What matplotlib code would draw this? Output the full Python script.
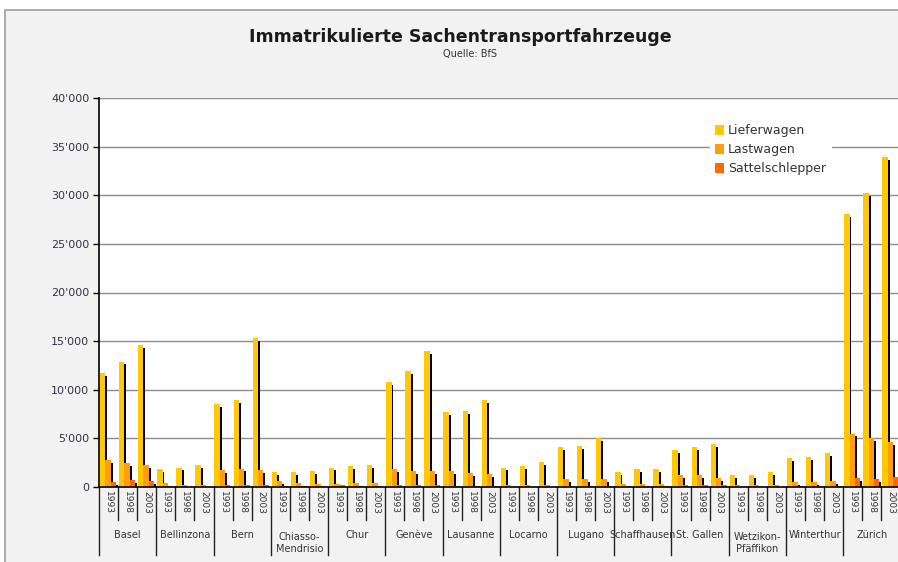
import matplotlib.pyplot as plt
from matplotlib.patches import Patch, Rectangle
from matplotlib.ticker import FuncFormatter

# Daten
staedte = ["Basel", "Bellinzona", "Bern", "Chiasso-\nMendrisio", "Chur", "Genève",
           "Lausanne", "Locarno", "Lugano", "Schaffhausen", "St. Gallen",
           "Wetzikon-\nPfäffikon", "Winterthur", "Zürich"]
jahre = ["1993", "1998", "2003"]

lieferwagen = [11700, 12900, 14600, 1800, 2000, 2300, 8500, 8900, 15300,
               1500, 1500, 1650, 2000, 2150, 2300, 10800, 11900, 14000,
               7750, 7850, 8900, 2000, 2150, 2600, 4100, 4200, 5050,
               1500, 1800, 1850, 3800, 4100, 4400, 1200, 1200, 1500,
               2950, 3050, 3450, 28100, 30200, 33900]
lastwagen = [2800, 2500, 2300, 400, 250, 250, 1750, 1900, 1750,
             600, 400, 300, 300, 400, 400, 1800, 1650, 1650,
             1600, 1400, 1350, 250, 200, 250, 800, 800, 800,
             300, 300, 300, 1200, 1200, 900, 200, 200, 250,
             500, 500, 600, 5500, 5000, 4650]
sattelschlepper = [550, 700, 650, 100, 50, 50, 200, 200, 250,
                   100, 80, 80, 250, 100, 100, 200, 200, 200,
                   150, 150, 150, 50, 50, 50, 150, 150, 150,
                   80, 80, 80, 200, 200, 200, 50, 50, 50,
                   150, 150, 150, 900, 800, 1000]

serien = [("Lieferwagen", lieferwagen, "#FFC800"),
          ("Lastwagen", lastwagen, "#FF9E0A"),
          ("Sattelschlepper", sattelschlepper, "#FF6A00")]

W, H = 898, 562
fig = plt.figure(figsize=(W / 100, H / 100), dpi=100)
fig.patch.set_facecolor("white")

# äusserer Rahmen
rahmen = Rectangle((5 / W, -0.1), 1.2, 1 - 10 / H + 0.1,
                   transform=fig.transFigure, facecolor="#F2F2F2",
                   edgecolor="#A0A0A0", linewidth=1.2, zorder=-10)
fig.add_artist(rahmen)

ax = fig.add_axes([99 / W, 1 - 487 / H, 801.5 / W, (487 - 98) / H])
ax.set_facecolor("white")

n = len(lieferwagen)
x = list(range(n))
breite = 0.28
offsets = [-0.45, -0.17, 0.11]
schatten = 0.1

for (name, werte, farbe), off in zip(serien, offsets):
    xs = [i + off for i in x]
    hs = [max(v - 300, 0) for v in werte]
    ax.bar([p + schatten for p in xs], hs, width=breite, align="edge",
           color="black", zorder=2)
    ax.bar(xs, werte, width=breite, align="edge", color=farbe, zorder=2)

ax.set_xlim(-0.5, n - 0.5)
ax.set_ylim(0, 40000)
ax.set_yticks(range(0, 40001, 5000))
ax.yaxis.set_major_formatter(FuncFormatter(lambda v, p: f"{int(v):,}".replace(",", "'")))
ax.tick_params(axis="y", direction="out", length=4, width=1, color="black",
               labelsize=8, labelcolor="#333344", pad=3)
ax.set_xticks([])
ax.grid(axis="y", color="#8C8C8C", linewidth=1, zorder=1)
ax.set_axisbelow(True)
for s in ["top", "right"]:
    ax.spines[s].set_visible(False)
ax.spines["left"].set_color("black")
ax.spines["bottom"].set_color("black")
ax.spines["left"].set_linewidth(1.2)
ax.spines["bottom"].set_linewidth(1.2)

# Kategorienachse unten
trans = ax.get_xaxis_transform()
px = 1 / (487 - 98)
for i in range(n):
    ax.text(i, -4 * px, jahre[i % 3], rotation=-90, ha="center", va="top",
            fontsize=6.5, color="#333333", transform=trans, clip_on=False)
for i in range(n + 1):
    unten = -68 * px if i % 3 == 0 else -33 * px
    ax.plot([i - 0.5, i - 0.5], [0, unten], color="#222222", linewidth=1,
            transform=trans, clip_on=False)
for k, stadt in enumerate(staedte):
    y = -48 * px if "\n" not in stadt else -56 * px
    ax.text(3 * k + 1, y, stadt, ha="center", va="center", fontsize=7,
            color="#333333", transform=trans, clip_on=False, linespacing=1.3)

handles = [Patch(facecolor=f, edgecolor="none", label=nm) for nm, _, f in serien]
leg = ax.legend(handles=handles, loc="upper left", bbox_to_anchor=(0.762, 0.945),
                frameon=True, fontsize=9, handlelength=0.75, handleheight=0.75,
                handletextpad=0.3, labelspacing=0.48, borderpad=0.4,
                borderaxespad=0)
leg.get_frame().set_facecolor("white")
leg.get_frame().set_edgecolor("white")
leg.get_frame().set_alpha(1)
for t in leg.get_texts():
    t.set_color("#333333")

fig.text(460 / W, 1 - 37 / H, "Immatrikulierte Sachentransportfahrzeuge",
         ha="center", va="center", fontsize=12.5, fontweight="bold", color="#1a1a1a")
fig.text(470 / W, 1 - 54 / H, "Quelle: BfS", ha="center", va="center",
         fontsize=7, color="#333333")

fig.savefig("out.png", dpi=100)
